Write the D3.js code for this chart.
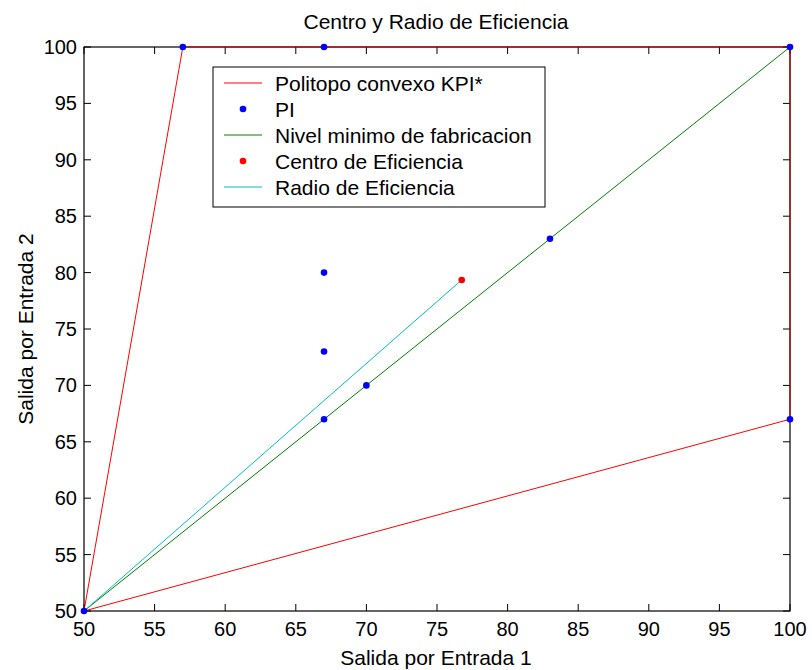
<!DOCTYPE html>
<html><head><meta charset="utf-8">
<script src="https://cdn.jsdelivr.net/npm/d3@7"></script>
<style>body{margin:0;background:#fff}svg{display:block}text{font-family:"Liberation Sans",Arial,sans-serif;fill:#000}</style>
</head><body><svg id="c" width="812" height="670"></svg>
<script>
const xTicks=[50,55,60,65,70,75,80,85,90,95,100];
const yTicks=[50,55,60,65,70,75,80,85,90,95,100];
const politopo=[[50,50],[57,100],[100,100],[100,67],[50,50]];
const piX=[50,57,67,100,67,67,67,70,83,100];
const piY=[50,100,100,100,80,73,67,70,83,67];
const nivel=[[50,50],[100,100]];
const centro=[76.75,79.35];
const radio=[[50,50],centro];
const legendItems=[["Politopo convexo KPI*","line","#ff0000"],["PI","dot","#0000ff"],["Nivel minimo de fabricacion","line","#008000"],["Centro de Eficiencia","dot","#ff0000"],["Radio de Eficiencia","line","#00bfbf"]];

const svg=d3.select("#c");
const L=84,R=790,T=47,B=611;
const x=d3.scaleLinear().domain([50,100]).range([L,R]);
const y=d3.scaleLinear().domain([50,100]).range([B,T]);
const g=svg.append("g");
const tl=7;
xTicks.forEach(v=>{
  g.append("line").attr("x1",x(v)).attr("x2",x(v)).attr("y1",B).attr("y2",B-tl).attr("stroke","#000");
  g.append("line").attr("x1",x(v)).attr("x2",x(v)).attr("y1",T).attr("y2",T+tl).attr("stroke","#000");
  g.append("text").attr("x",x(v)).attr("y",B+25).attr("text-anchor","middle").attr("font-size",20).text(v);
});
yTicks.forEach(v=>{
  g.append("line").attr("x1",L).attr("x2",L+tl).attr("y1",y(v)).attr("y2",y(v)).attr("stroke","#000");
  g.append("line").attr("x1",R).attr("x2",R-tl).attr("y1",y(v)).attr("y2",y(v)).attr("stroke","#000");
  g.append("text").attr("x",L-7).attr("y",y(v)+7).attr("text-anchor","end").attr("font-size",20).text(v);
});
g.append("rect").attr("x",L).attr("y",T).attr("width",R-L).attr("height",B-T).attr("fill","none").attr("stroke","#000");
const line=d3.line().x(d=>x(d[0])).y(d=>y(d[1]));
g.append("path").attr("d",line(politopo)).attr("fill","none").attr("stroke","#ff0000").attr("stroke-width",1);
g.append("path").attr("d",line(nivel)).attr("fill","none").attr("stroke","#008000").attr("stroke-width",1);
g.append("path").attr("d",line(radio)).attr("fill","none").attr("stroke","#00bfbf").attr("stroke-width",1);
g.append("rect").attr("x",L).attr("y",T).attr("width",R-L).attr("height",B-T).attr("fill","none").attr("stroke","#000").attr("stroke-opacity",0.4);
piX.forEach((v,i)=>g.append("circle").attr("cx",x(v)).attr("cy",y(piY[i])).attr("r",3.3).attr("fill","#0000ff"));
g.append("circle").attr("cx",x(centro[0])).attr("cy",y(centro[1])).attr("r",3.3).attr("fill","#ff0000");
// legend
const lg=svg.append("g");
lg.append("rect").attr("x",213).attr("y",67).attr("width",332).attr("height",140).attr("fill","#fff").attr("stroke","#000");
legendItems.forEach((d,i)=>{
  const yy=83+i*26;
  if(d[1]==="line") lg.append("line").attr("x1",224).attr("x2",262).attr("y1",yy).attr("y2",yy).attr("stroke",d[2]);
  else lg.append("circle").attr("cx",243).attr("cy",yy).attr("r",3.3).attr("fill",d[2]);
  lg.append("text").attr("x",275).attr("y",yy+8).attr("font-size",21).text(d[0]);
});
svg.append("text").attr("x",436).attr("y",29).attr("text-anchor","middle").attr("font-size",21).text("Centro y Radio de Eficiencia");
svg.append("text").attr("x",436).attr("y",665).attr("text-anchor","middle").attr("font-size",21).text("Salida por Entrada 1");
svg.append("text").attr("transform","translate(33,329) rotate(-90)").attr("text-anchor","middle").attr("font-size",21).text("Salida por Entrada 2");
</script></body></html>
